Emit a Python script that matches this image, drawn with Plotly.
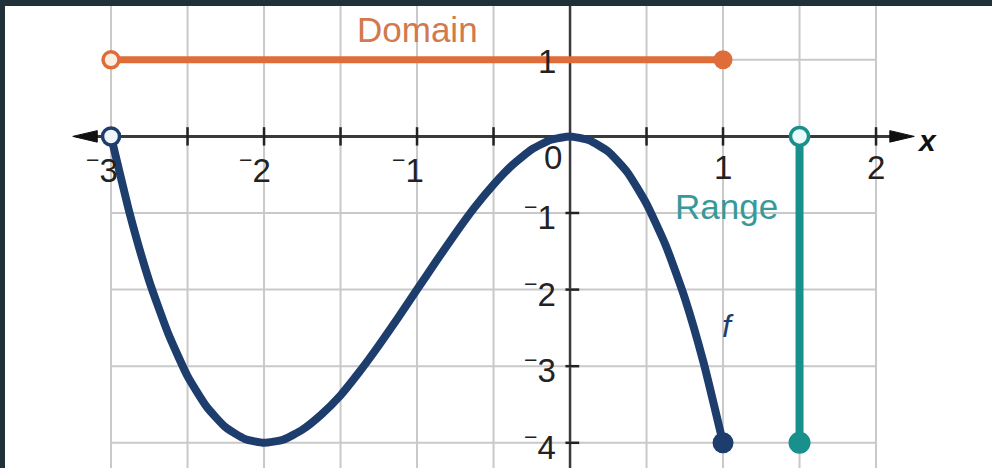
import plotly.graph_objects as go

# f(x) sampled along the drawn curve
curve_x = [-3, -2.875, -2.75, -2.625, -2.5, -2.375, -2.25, -2.125, -2, -1.875, -1.75,
           -1.625, -1.5, -1.375, -1.25, -1.125, -1, -0.875, -0.75, -0.625, -0.5, -0.375,
           -0.25, -0.125, 0, 0.125, 0.25, 0.375, 0.5, 0.625, 0.75, 0.875, 1]
curve_y = [0, -1.03, -1.89, -2.58, -3.13, -3.53, -3.80, -3.95, -4, -3.96, -3.83,
           -3.63, -3.38, -3.07, -2.73, -2.37, -2, -1.63, -1.27, -0.93, -0.63, -0.37,
           -0.17, -0.045, 0, -0.05, -0.20, -0.47, -0.88, -1.42, -2.11, -2.97, -4]

# domain (-3, 1] drawn at y = 1, range [-4, 0) drawn at x = 1.5
domain_x = [-3, 1]
domain_level = 1
range_y = [0, -4]
range_level = 1.5

# tick labels
x_tick_vals = [-3, -2, -1, 1, 2]
x_tick_text = ["<sup>−</sup>3", "<sup>−</sup>2", "<sup>−</sup>1", "1", "2"]
y_tick_vals = [1, -1, -2, -3, -4]
y_tick_text = ["1", "<sup>−</sup>1", "<sup>−</sup>2", "<sup>−</sup>3", "<sup>−</sup>4"]
grid_x = [-3, -2.5, -2, -1.5, -1, -0.5, 0, 0.5, 1, 1.5, 2]
grid_y = [1, 0, -1, -2, -3, -4]
minor_ticks_x = [-2.5, -2, -1.5, -1, -0.5, 0.5, 1, 1.5, 2]

NAVY = "#1d3e6d"
ORANGE = "#df6d39"
TEAL = "#18918d"
GRID = "#c9c9c9"
AXIS = "#3a3a3a"
FONT = "Liberation Sans, Arial, sans-serif"

fig = go.Figure()

# domain bar
fig.add_trace(go.Scatter(x=domain_x, y=[domain_level] * 2, mode="lines",
                         line=dict(color=ORANGE, width=7), hoverinfo="skip"))
fig.add_trace(go.Scatter(x=[domain_x[0]], y=[domain_level], mode="markers",
                         marker=dict(size=16, color="#fdeee2", line=dict(color=ORANGE, width=3.5))))
fig.add_trace(go.Scatter(x=[domain_x[1]], y=[domain_level], mode="markers",
                         marker=dict(size=19, color=ORANGE, line=dict(width=0))))

# range bar
fig.add_trace(go.Scatter(x=[range_level] * 2, y=range_y, mode="lines",
                         line=dict(color=TEAL, width=8), hoverinfo="skip"))
fig.add_trace(go.Scatter(x=[range_level], y=[range_y[0]], mode="markers",
                         marker=dict(size=18, color="#e6fbfa", line=dict(color=TEAL, width=3.5))))
fig.add_trace(go.Scatter(x=[range_level], y=[range_y[1]], mode="markers",
                         marker=dict(size=22, color=TEAL, line=dict(width=0))))

# the function
fig.add_trace(go.Scatter(x=curve_x, y=curve_y, mode="lines",
                         line=dict(color=NAVY, width=8, shape="spline", smoothing=0.5)))
fig.add_trace(go.Scatter(x=[curve_x[0]], y=[curve_y[0]], mode="markers",
                         marker=dict(size=17, color="#eef5fb", line=dict(color=NAVY, width=3.5))))
fig.add_trace(go.Scatter(x=[curve_x[-1]], y=[curve_y[-1]], mode="markers",
                         marker=dict(size=21, color=NAVY, line=dict(width=0))))

shapes = []
# grid
for gx in grid_x:
    shapes.append(dict(type="line", xref="x", yref="paper", x0=gx, x1=gx, y0=0, y1=1,
                       line=dict(color=GRID, width=2), layer="below"))
for gy in grid_y:
    shapes.append(dict(type="line", xref="x", yref="y", x0=grid_x[0], x1=grid_x[-1], y0=gy, y1=gy,
                       line=dict(color=GRID, width=2), layer="below"))
# axes
shapes.append(dict(type="line", xref="x", yref="paper", x0=0, x1=0, y0=0, y1=1,
                   line=dict(color=AXIS, width=2.5), layer="below"))
shapes.append(dict(type="line", xref="x", yref="y", x0=-3.12, x1=2.1, y0=0, y1=0,
                   line=dict(color=AXIS, width=3), layer="below"))
# arrowheads on the x axis
shapes.append(dict(type="path", xref="x", yref="y", path="M -3.25,0 L -3.09,0.075 L -3.09,-0.075 Z",
                   fillcolor="#111111", line=dict(color="#111111", width=1)))
shapes.append(dict(type="path", xref="x", yref="y", path="M 2.25,0 L 2.09,0.075 L 2.09,-0.075 Z",
                   fillcolor="#111111", line=dict(color="#111111", width=1)))
# tick marks
for tx in minor_ticks_x:
    shapes.append(dict(type="line", xref="x", yref="y", x0=tx, x1=tx, y0=-0.12, y1=0.12,
                       line=dict(color="#222222", width=2.5), layer="below"))
for ty in y_tick_vals:
    shapes.append(dict(type="line", xref="x", yref="y", x0=-0.03, x1=0.06, y0=ty, y1=ty,
                       line=dict(color="#222222", width=2.5), layer="below"))

annotations = []
tick_font = dict(family=FONT, size=33, color="#222222")
for v, t in zip(x_tick_vals, x_tick_text):
    annotations.append(dict(x=v, y=-0.41, xref="x", yref="y", text=t, showarrow=False,
                            font=tick_font, xanchor="right" if v < 0 else "center",
                            xshift=9 if v < 0 else 0, yanchor="middle"))
for v, t in zip(y_tick_vals, y_tick_text):
    annotations.append(dict(x=0, y=v, xref="x", yref="y", text=t, showarrow=False,
                            font=tick_font, xanchor="right", xshift=-12, yanchor="middle",
                            yshift=-2))
annotations.append(dict(x=0, y=-0.28, xref="x", yref="y", text="0", showarrow=False,
                        font=tick_font, xanchor="right", xshift=-6, yanchor="middle"))
annotations.append(dict(x=2.33, y=-0.05, xref="x", yref="y", text="<b><i>x</i></b>",
                        showarrow=False, font=dict(family=FONT, size=30, color="#111111"),
                        xanchor="center", yanchor="middle"))
annotations.append(dict(x=-1.0, y=1.4, xref="x", yref="y", text="Domain", showarrow=False,
                        font=dict(family=FONT, size=35, color="#d07a4e"),
                        xanchor="center", yanchor="middle"))
annotations.append(dict(x=1.023, y=-0.92, xref="x", yref="y", text="Range", showarrow=False,
                        font=dict(family=FONT, size=35, color="#379a98"),
                        xanchor="center", yanchor="middle"))
annotations.append(dict(x=1.03, y=-2.47, xref="x", yref="y", text="<i>f</i>", showarrow=False,
                        font=dict(family=FONT, size=32, color=NAVY),
                        xanchor="center", yanchor="middle"))

fig.update_layout(
    width=992, height=468,
    margin=dict(l=5, r=0, t=6, b=0),
    paper_bgcolor="#21313a",
    plot_bgcolor="#ffffff",
    showlegend=False,
    xaxis=dict(range=[-3.693, 2.758], showgrid=False, zeroline=False, showticklabels=False,
               ticks="", showline=False, fixedrange=True),
    yaxis=dict(range=[-4.329, 1.702], showgrid=False, zeroline=False, showticklabels=False,
               ticks="", showline=False, fixedrange=True),
    shapes=shapes,
    annotations=annotations,
)

fig.write_html("out.html", config={"displayModeBar": False})
